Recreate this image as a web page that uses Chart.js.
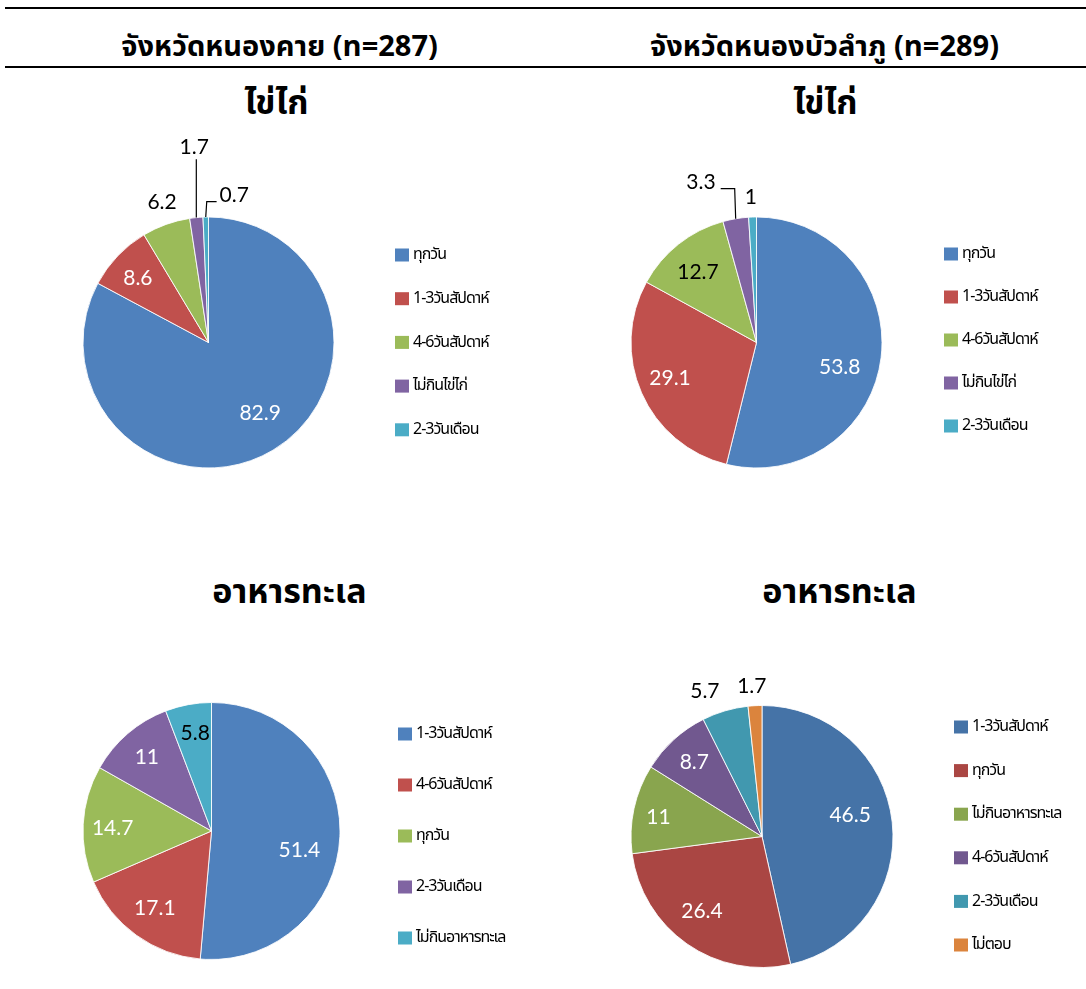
<!DOCTYPE html>
<html>
<head>
<meta charset="utf-8">
<script src="https://cdn.jsdelivr.net/npm/chart.js@4.4.1/dist/chart.umd.min.js"></script>
<style>
  html, body { margin: 0; padding: 0; background: #fff; width: 1086px; height: 989px; overflow: hidden; }
  body { position: relative; font-family: "Noto Sans Thai", "Noto Sans", "DejaVu Sans", sans-serif; color: #000; }
  .rule { position: absolute; left: 5px; right: 0; height: 2px; background: #000; }
  .head { position: absolute; top: 27px; width: 543px; text-align: center; font-weight: bold; font-size: 29px; line-height: 40px; white-space: nowrap; }
  .ttl { position: absolute; width: 543px; text-align: center; font-weight: bold; font-size: 34px; line-height: 44px; white-space: nowrap; }
  canvas { position: absolute; }
</style>
</head>
<body>
<div class="rule" style="top:7px"></div>
<div class="rule" style="top:66px"></div>
<div class="head" id="h0" style="left:8px"></div>
<div class="head" id="h1" style="left:553px"></div>
<div class="ttl" id="t0" style="left:5px; top:82px"></div>
<div class="ttl" id="t1" style="left:554px; top:82px"></div>
<div class="ttl" id="t2" style="left:18px; top:571px"></div>
<div class="ttl" id="t3" style="left:568px; top:571px"></div>
<canvas id="c0" width="543" height="375" style="left:0; top:125px"></canvas>
<canvas id="c1" width="543" height="375" style="left:543px; top:125px"></canvas>
<canvas id="c2" width="543" height="374" style="left:0; top:615px"></canvas>
<canvas id="c3" width="543" height="374" style="left:543px; top:615px"></canvas>
<script>
// ---- text ----
const provinceHeaders = ['จังหวัดหนองคาย (n=287)', 'จังหวัดหนองบัวลำภู (n=289)'];
const chartTitles = ['ไข่ไก่', 'ไข่ไก่', 'อาหารทะเล', 'อาหารทะเล'];

// ---- egg consumption (%) ----
const eggLabels = ['ทุกวัน', '1-3วันสัปดาห์', '4-6วันสัปดาห์', 'ไม่กินไข่ไก่', '2-3วันเดือน'];
const nongkhaiEggValues = [82.9, 8.6, 6.2, 1.7, 0.7];
const nongbualamphuEggValues = [53.8, 29.1, 12.7, 3.3, 1];

// ---- seafood consumption (%) ----
const nongkhaiSeafoodLabels = ['1-3วันสัปดาห์', '4-6วันสัปดาห์', 'ทุกวัน', '2-3วันเดือน', 'ไม่กินอาหารทะเล'];
const nongkhaiSeafoodValues = [51.4, 17.1, 14.7, 11, 5.8];
const nongbualamphuSeafoodLabels = ['1-3วันสัปดาห์', 'ทุกวัน', 'ไม่กินอาหารทะเล', '4-6วันสัปดาห์', '2-3วันเดือน', 'ไม่ตอบ'];
const nongbualamphuSeafoodValues = [46.5, 26.4, 11, 8.7, 5.7, 1.7];

// ---- palettes ----
const officeColors = ['#4F81BD', '#C0504D', '#9BBB59', '#8064A2', '#4BACC6'];
const deepColors = ['#4573A7', '#AA4643', '#89A54E', '#71588F', '#4198AF', '#DB843D'];

document.getElementById('h0').textContent = provinceHeaders[0];
document.getElementById('h1').textContent = provinceHeaders[1];
chartTitles.forEach((t, i) => { document.getElementById('t' + i).textContent = t; });

// value labels on / beside each slice, with optional leader lines
const valueLabels = {
  id: 'valueLabels',
  afterDatasetsDraw(chart, args, opts) {
    const ctx = chart.ctx;
    const meta = chart.getDatasetMeta(0);
    const data = chart.data.datasets[0].data;
    ctx.save();
    ctx.font = '21px Lato, "Open Sans", sans-serif';
    ctx.textAlign = 'center';
    ctx.textBaseline = 'middle';
    meta.data.forEach((arc, i) => {
      const p = arc.getProps(['x', 'y', 'startAngle', 'endAngle', 'outerRadius'], true);
      const mid = (p.startAngle + p.endAngle) / 2;
      const st = opts.styles[i];
      const dist = st.out ? p.outerRadius + 22 : p.outerRadius * 0.7;
      const lx = p.x + Math.cos(mid) * dist + st.nudge[0];
      const ly = p.y + Math.sin(mid) * dist + st.nudge[1];
      const text = String(data[i]);
      if (st.leader) {
        const ex = p.x + Math.cos(mid) * p.outerRadius;
        const ey = p.y + Math.sin(mid) * p.outerRadius;
        const half = ctx.measureText(text).width / 2;
        ctx.strokeStyle = '#000';
        ctx.lineWidth = 1.2;
        ctx.beginPath();
        ctx.moveTo(ex, ey);
        if (st.leader === 'vertical') {
          ctx.lineTo(ex, ly + 12);
        } else {
          const yy = ly + 6.5;
          ctx.lineTo(ex + (lx > ex ? 1 : -1), yy);
          ctx.lineTo(lx > ex ? lx - half - 3 : lx + half + 5, yy);
        }
        ctx.stroke();
      }
      ctx.fillStyle = st.color;
      ctx.fillText(text, lx, ly);
    });
    ctx.restore();
  }
};

// legend column to the right of each pie
const sideLegend = {
  id: 'sideLegend',
  afterDraw(chart, args, opts) {
    const ctx = chart.ctx;
    const colors = chart.data.datasets[0].backgroundColor;
    ctx.save();
    ctx.font = '16px "Noto Sans Thai", "Noto Sans", sans-serif';
    ctx.textAlign = 'left';
    ctx.textBaseline = 'middle';
    if ('letterSpacing' in ctx) ctx.letterSpacing = '-1px';
    chart.data.labels.forEach((lab, i) => {
      const cy = opts.y + i * opts.gap;
      ctx.fillStyle = colors[i];
      ctx.fillRect(opts.x, cy - 6.5, 14, 13);
      ctx.fillStyle = '#000';
      ctx.fillText(lab, opts.x + 18, cy + 1);
    });
    ctx.restore();
  }
};

function makePie(id, labels, values, colors, geom, legend, styles) {
  const cv = document.getElementById(id);
  const W = cv.width, H = cv.height, half = geom.r + 0.5;
  new Chart(cv, {
    type: 'pie',
    data: {
      labels: labels,
      datasets: [{
        data: values,
        backgroundColor: colors.slice(0, values.length),
        borderColor: 'rgba(255,255,255,0.85)',
        borderWidth: 1,
        hoverOffset: 0
      }]
    },
    options: {
      responsive: false,
      animation: false,
      events: [],
      layout: {
        padding: {
          left: geom.cx - half,
          top: geom.cy - half,
          right: W - geom.cx - half,
          bottom: H - geom.cy - half
        }
      },
      plugins: {
        legend: { display: false },
        tooltip: { enabled: false },
        valueLabels: { styles: styles },
        sideLegend: legend
      }
    },
    plugins: [valueLabels, sideLegend]
  });
}

const W_ = '#fff', B_ = '#000';

makePie('c0', eggLabels, nongkhaiEggValues, officeColors,
  { cx: 208.5, cy: 217.5, r: 125.5 },
  { x: 395, y: 130, gap: 43.7 },
  [
    { color: W_, nudge: [6.5, -5] },
    { color: W_, nudge: [-7, -4] },
    { color: B_, out: true, nudge: [3.5, -1.5] },
    { color: B_, out: true, nudge: [0, -48.5], leader: 'vertical' },
    { color: B_, out: true, nudge: [29, 0], leader: 'elbow' }
  ]);

makePie('c1', eggLabels, nongbualamphuEggValues, officeColors,
  { cx: 213.5, cy: 217.5, r: 125.5 },
  { x: 401, y: 129, gap: 43 },
  [
    { color: W_, nudge: [-4, 14] },
    { color: W_, nudge: [-6, 0] },
    { color: B_, nudge: [-4, -1] },
    { color: B_, out: true, nudge: [-31, -15], leader: 'elbow' },
    { color: B_, out: true, nudge: [-1, 2] }
  ]);

makePie('c2', nongkhaiSeafoodLabels, nongkhaiSeafoodValues, officeColors,
  { cx: 211.5, cy: 216, r: 128.5 },
  { x: 398, y: 119, gap: 51 },
  [
    { color: W_, nudge: [-2, 15] },
    { color: W_, nudge: [-4, 4] },
    { color: W_, nudge: [-9, 2] },
    { color: W_, nudge: [-6, -6] },
    { color: B_, nudge: [0, -9.5] }
  ]);

makePie('c3', nongbualamphuSeafoodLabels, nongbualamphuSeafoodValues, deepColors,
  { cx: 219, cy: 221.5, r: 131 },
  { x: 411, y: 112, gap: 43.6 },
  [
    { color: W_, nudge: [-3, -11] },
    { color: W_, nudge: [-7.5, 0] },
    { color: W_, nudge: [-14, 0] },
    { color: W_, nudge: [-6, -6] },
    { color: B_, out: true, nudge: [-14, 2] },
    { color: B_, out: true, nudge: [-2, 3] }
  ]);
</script>
</body>
</html>
